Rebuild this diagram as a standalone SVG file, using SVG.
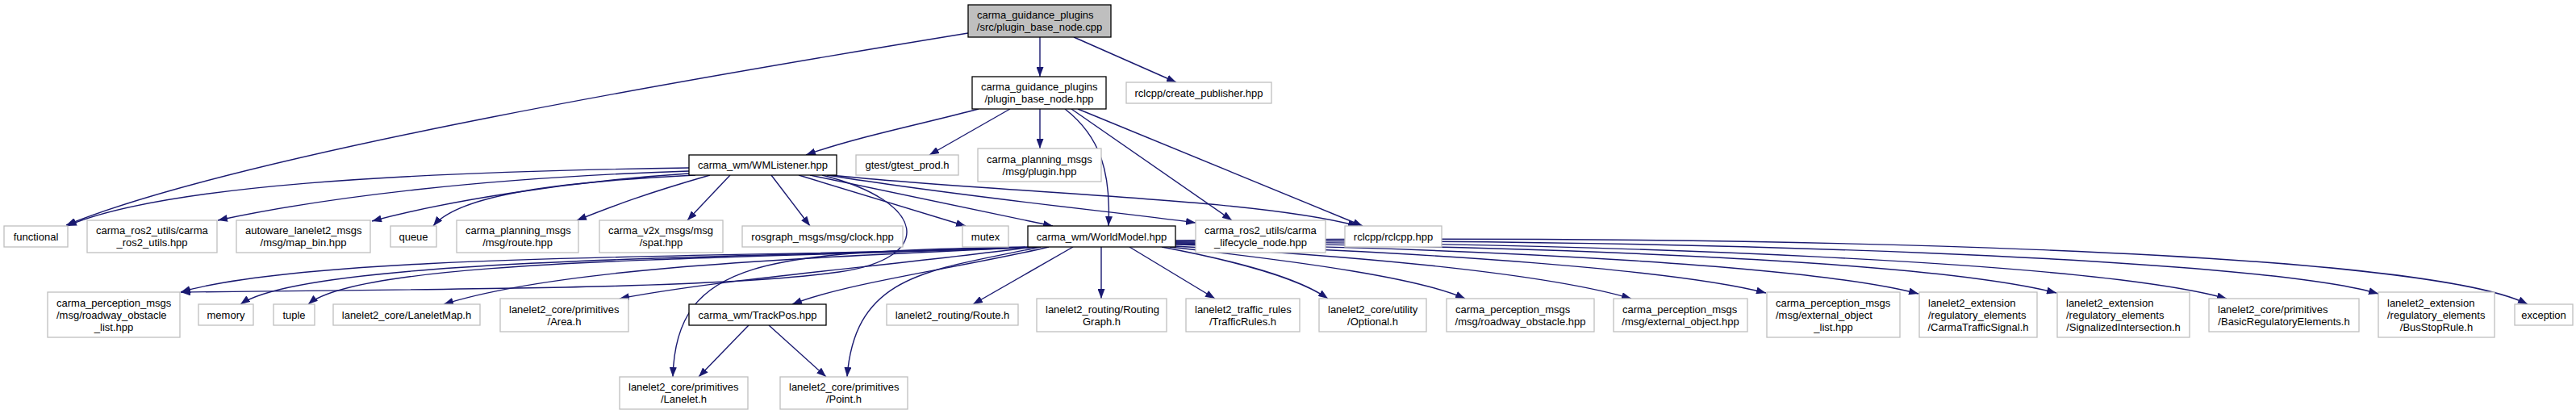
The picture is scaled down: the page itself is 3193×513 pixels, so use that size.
<svg xmlns="http://www.w3.org/2000/svg" width="3193" height="513" viewBox="0 0 3193 513">
<style>
.n rect{fill:#fff;stroke:#bfbfbf;stroke-width:1.3}
.b rect{stroke:#000}
.t rect{fill:#bfbfbf;stroke:#000}
text{font-family:"Liberation Sans",Arial,sans-serif;font-size:13px;fill:#000}
.c{text-anchor:middle}
.l{text-anchor:start}
.e path{fill:none;stroke:#191970;stroke-width:1.4;marker-end:url(#a)}
</style>
<defs>
<marker id="a" viewBox="0 0 12 9" refX="12" refY="4.5" markerWidth="12" markerHeight="9" markerUnits="userSpaceOnUse" orient="auto"><path d="M0,0L12,4.5L0,9z" fill="#191970"/></marker>
</defs>
<rect width="3193" height="513" fill="#fff"/>
<g id="edges" class="e">
<path d="M1289,46 L1289,95"/>
<path d="M1331,46 L1458,102"/>
<path d="M1200,41 C900,90 300,190 82,279"/>
<path d="M1213,135 C1150,152 1060,170 999,192"/>
<path d="M1252,135 L1152,192"/>
<path d="M1289,135 L1289,184"/>
<path d="M1320,135 C1365,170 1377,215 1374,280"/>
<path d="M1328,135 L1527,273"/>
<path d="M1336,135 L1689,280"/>
<path d="M854,208 C500,213 200,230 83,280"/>
<path d="M854,212 C600,220 400,245 270,273"/>
<path d="M854,215 C700,225 550,250 461,274"/>
<path d="M862,217 C700,225 570,240 537,280"/>
<path d="M880,217 C800,240 760,255 715,273"/>
<path d="M905,217 L852,273"/>
<path d="M956,217 L1004,280"/>
<path d="M990,217 L1197,280"/>
<path d="M1004,217 L1305,280"/>
<path d="M1025,217 C1200,245 1380,262 1482,276"/>
<path d="M1030,217 C1250,240 1550,245 1683,280"/>
<path d="M1019,217 C1150,250 1160,320 1040,337 C900,357 600,358 224,362"/>
<path d="M1290,306 C1000,320 400,310 224,362"/>
<path d="M1288,306 C900,320 380,320 298,377"/>
<path d="M1286,306 C900,322 450,320 382,377"/>
<path d="M1283,306 C1000,320 700,330 550,377"/>
<path d="M1280,306 C1100,330 900,345 768,370"/>
<path d="M1300,306 C1200,330 1050,350 982,377"/>
<path d="M1276,306 C950,312 838,320 834,467"/>
<path d="M1290,306 C1150,335 1060,340 1050,467"/>
<path d="M1330,306 L1206,377"/>
<path d="M1365,306 L1365,370"/>
<path d="M1400,306 L1506,370"/>
<path d="M1440,306 C1540,325 1610,345 1646,370"/>
<path d="M1450,306 C1620,325 1760,345 1816,370"/>
<path d="M1455,305 C1700,318 1920,340 2022,370"/>
<path d="M1457,303 C1780,312 2080,335 2189,363"/>
<path d="M1457,302 C1850,308 2250,330 2378,364"/>
<path d="M1457,301 C1950,305 2400,325 2549,363"/>
<path d="M1457,300 C2000,300 2600,325 2760,370"/>
<path d="M1457,299 C2100,295 2800,320 2948,364"/>
<path d="M1457,298 C2200,290 3000,310 3133,377"/>
<path d="M928,403 L866,467"/>
<path d="M953,403 L1024,467"/>
</g>
<g id="n0" class="n t"><rect x="1200" y="6" width="177" height="40"/><text class="l" x="1211" y="23">carma_guidance_plugins</text><text class="c" x="1288.5" y="38">/src/plugin_base_node.cpp</text></g>
<g id="n1" class="n b"><rect x="1205" y="95" width="166" height="40"/><text class="l" x="1216" y="112">carma_guidance_plugins</text><text class="c" x="1288" y="127">/plugin_base_node.hpp</text></g>
<g id="n2" class="n"><rect x="1396" y="102" width="180" height="26"/><text class="c" x="1486" y="119.5">rclcpp/create_publisher.hpp</text></g>
<g id="n3" class="n b"><rect x="854" y="192" width="183" height="25"/><text class="c" x="945.5" y="209">carma_wm/WMListener.hpp</text></g>
<g id="n4" class="n"><rect x="1061" y="192" width="127" height="25"/><text class="c" x="1124.5" y="209">gtest/gtest_prod.h</text></g>
<g id="n5" class="n"><rect x="1212" y="184" width="153" height="41"/><text class="l" x="1223" y="201.5">carma_planning_msgs</text><text class="c" x="1288.5" y="216.5">/msg/plugin.hpp</text></g>
<g id="n6" class="n"><rect x="5" y="280" width="79" height="26"/><text class="c" x="44.5" y="297.5">functional</text></g>
<g id="n7" class="n"><rect x="108" y="273" width="161" height="40"/><text class="l" x="119" y="290">carma_ros2_utils/carma</text><text class="c" x="188.5" y="305">_ros2_utils.hpp</text></g>
<g id="n8" class="n"><rect x="293" y="273" width="166" height="40"/><text class="l" x="304" y="290">autoware_lanelet2_msgs</text><text class="c" x="376" y="305">/msg/map_bin.hpp</text></g>
<g id="n9" class="n"><rect x="484" y="280" width="57" height="26"/><text class="c" x="512.5" y="297.5">queue</text></g>
<g id="n10" class="n"><rect x="566" y="273" width="151" height="40"/><text class="l" x="577" y="290">carma_planning_msgs</text><text class="c" x="641.5" y="305">/msg/route.hpp</text></g>
<g id="n11" class="n"><rect x="743" y="273" width="153" height="40"/><text class="l" x="754" y="290">carma_v2x_msgs/msg</text><text class="c" x="819.5" y="305">/spat.hpp</text></g>
<g id="n12" class="n"><rect x="920" y="280" width="199" height="26"/><text class="c" x="1019.5" y="297.5">rosgraph_msgs/msg/clock.hpp</text></g>
<g id="n13" class="n"><rect x="1193" y="280" width="57" height="26"/><text class="c" x="1221.5" y="297.5">mutex</text></g>
<g id="n14" class="n b"><rect x="1274" y="280" width="183" height="26"/><text class="c" x="1365.5" y="297.5">carma_wm/WorldModel.hpp</text></g>
<g id="n15" class="n"><rect x="1482" y="273" width="161" height="40"/><text class="l" x="1493" y="290">carma_ros2_utils/carma</text><text class="c" x="1562.5" y="305">_lifecycle_node.hpp</text></g>
<g id="n16" class="n"><rect x="1667" y="280" width="120" height="26"/><text class="c" x="1727" y="297.5">rclcpp/rclcpp.hpp</text></g>
<g id="n17" class="n"><rect x="59" y="362" width="164" height="56"/><text class="l" x="70" y="379.5">carma_perception_msgs</text><text class="l" x="70" y="394.5">/msg/roadway_obstacle</text><text class="c" x="141" y="409.5">_list.hpp</text></g>
<g id="n18" class="n"><rect x="246" y="377" width="68" height="26"/><text class="c" x="280" y="394.5">memory</text></g>
<g id="n19" class="n"><rect x="339" y="377" width="51" height="26"/><text class="c" x="364.5" y="394.5">tuple</text></g>
<g id="n20" class="n"><rect x="413" y="377" width="182" height="26"/><text class="c" x="504" y="394.5">lanelet2_core/LaneletMap.h</text></g>
<g id="n21" class="n"><rect x="620" y="370" width="159" height="41"/><text class="l" x="631" y="387.5">lanelet2_core/primitives</text><text class="c" x="699.5" y="402.5">/Area.h</text></g>
<g id="n22" class="n b"><rect x="854" y="377" width="170" height="26"/><text class="c" x="939" y="394.5">carma_wm/TrackPos.hpp</text></g>
<g id="n23" class="n"><rect x="1099" y="377" width="163" height="26"/><text class="c" x="1180.5" y="394.5">lanelet2_routing/Route.h</text></g>
<g id="n24" class="n"><rect x="1285" y="370" width="161" height="41"/><text class="l" x="1296" y="387.5">lanelet2_routing/Routing</text><text class="c" x="1365.5" y="402.5">Graph.h</text></g>
<g id="n25" class="n"><rect x="1470" y="370" width="141" height="41"/><text class="l" x="1481" y="387.5">lanelet2_traffic_rules</text><text class="c" x="1540.5" y="402.5">/TrafficRules.h</text></g>
<g id="n26" class="n"><rect x="1635" y="370" width="133" height="41"/><text class="l" x="1646" y="387.5">lanelet2_core/utility</text><text class="c" x="1701.5" y="402.5">/Optional.h</text></g>
<g id="n27" class="n"><rect x="1793" y="370" width="183" height="41"/><text class="l" x="1804" y="387.5">carma_perception_msgs</text><text class="c" x="1884.5" y="402.5">/msg/roadway_obstacle.hpp</text></g>
<g id="n28" class="n"><rect x="2000" y="370" width="166" height="41"/><text class="l" x="2011" y="387.5">carma_perception_msgs</text><text class="c" x="2083" y="402.5">/msg/external_object.hpp</text></g>
<g id="n29" class="n"><rect x="2190" y="362" width="165" height="56"/><text class="l" x="2201" y="379.5">carma_perception_msgs</text><text class="l" x="2201" y="394.5">/msg/external_object</text><text class="c" x="2272.5" y="409.5">_list.hpp</text></g>
<g id="n30" class="n"><rect x="2379" y="362" width="146" height="56"/><text class="l" x="2390" y="379.5">lanelet2_extension</text><text class="l" x="2390" y="394.5">/regulatory_elements</text><text class="c" x="2452" y="409.5">/CarmaTrafficSignal.h</text></g>
<g id="n31" class="n"><rect x="2550" y="362" width="164" height="56"/><text class="l" x="2561" y="379.5">lanelet2_extension</text><text class="l" x="2561" y="394.5">/regulatory_elements</text><text class="c" x="2632" y="409.5">/SignalizedIntersection.h</text></g>
<g id="n32" class="n"><rect x="2738" y="370" width="186" height="41"/><text class="l" x="2749" y="387.5">lanelet2_core/primitives</text><text class="c" x="2831" y="402.5">/BasicRegulatoryElements.h</text></g>
<g id="n33" class="n"><rect x="2948" y="362" width="144" height="56"/><text class="l" x="2959" y="379.5">lanelet2_extension</text><text class="l" x="2959" y="394.5">/regulatory_elements</text><text class="c" x="3020" y="409.5">/BusStopRule.h</text></g>
<g id="n34" class="n"><rect x="3117" y="377" width="72" height="26"/><text class="c" x="3153" y="394.5">exception</text></g>
<g id="n35" class="n"><rect x="768" y="467" width="159" height="40"/><text class="l" x="779" y="484">lanelet2_core/primitives</text><text class="c" x="847.5" y="499">/Lanelet.h</text></g>
<g id="n36" class="n"><rect x="967" y="467" width="158" height="40"/><text class="l" x="978" y="484">lanelet2_core/primitives</text><text class="c" x="1046" y="499">/Point.h</text></g>
</svg>
